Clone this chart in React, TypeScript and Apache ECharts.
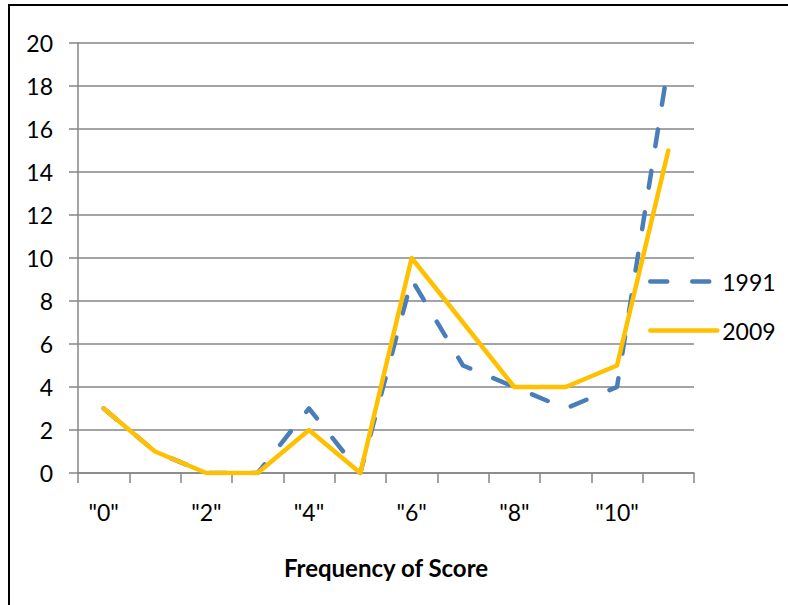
import React, { useEffect, useRef } from "react";
import * as echarts from "echarts";

const categories = ['"0"', '"1"', '"2"', '"3"', '"4"', '"5"', '"6"', '"7"', '"8"', '"9"', '"10"', '"11"'];
const series1991 = [3, 1, 0, 0, 3, 0, 9, 5, 4, 3, 4, 19];
const series2009 = [3, 1, 0, 0, 2, 0, 10, 7, 4, 4, 5, 15];
const seriesNames = ["1991", "2009"];
const xAxisTitle = "Frequency of Score";

const FONT = "Lato, 'Open Sans', sans-serif";

export default function App() {
  const ref = useRef<HTMLDivElement>(null);
  useEffect(() => {
    if (!ref.current) return;
    const chart = echarts.init(ref.current, undefined, { renderer: "svg" });
    chart.setOption({
      animation: false,
      backgroundColor: "#ffffff",
      textStyle: { fontFamily: FONT },
      grid: { left: 78, right: 94, top: 43, bottom: 132 },
      graphic: [
        {
          type: "rect",
          shape: { x: 9, y: 5, width: 820, height: 640 },
          style: { fill: "none", stroke: "#000000", lineWidth: 2 },
          silent: true,
        },
      ],
      legend: {
        orient: "vertical",
        left: 643,
        top: 265,
        itemWidth: 67,
        itemHeight: 14,
        itemGap: 26,
        itemStyle: { opacity: 0 },
        lineStyle: { width: 4.5, cap: "round" },
        textStyle: { fontFamily: FONT, fontSize: 23, color: "#000000" },
        data: seriesNames,
      },
      xAxis: {
        type: "category",
        data: categories,
        boundaryGap: true,
        name: xAxisTitle,
        nameLocation: "middle",
        nameGap: 82,
        nameTextStyle: { fontFamily: FONT, fontSize: 24, fontWeight: "bold", color: "#000000", verticalAlign: "top" },
        axisLine: { lineStyle: { color: "#868686", width: 1.5 } },
        axisTick: { show: true, length: 10, interval: 0, lineStyle: { color: "#868686", width: 1.5 } },
        axisLabel: { interval: 1, margin: 27, fontFamily: FONT, fontSize: 23, color: "#000000" },
        splitLine: { show: false },
      },
      yAxis: {
        type: "value",
        min: 0,
        max: 20,
        interval: 2,
        axisLine: { show: true, lineStyle: { color: "#868686", width: 1.5 } },
        axisTick: { show: true, length: 9, lineStyle: { color: "#868686", width: 1.5 } },
        axisLabel: { margin: 25, fontFamily: FONT, fontSize: 23, color: "#000000" },
        splitLine: { show: true, lineStyle: { color: "#868686", width: 1.5 } },
      },
      series: [
        {
          name: seriesNames[0],
          type: "line",
          data: series1991,
          symbol: "none",
          itemStyle: { color: "#4A7EBB" },
          lineStyle: { color: "#4A7EBB", width: 4.5, type: [17, 25], cap: "round", join: "round" },
        },
        {
          name: seriesNames[1],
          type: "line",
          data: series2009,
          symbol: "none",
          itemStyle: { color: "#FFC000" },
          lineStyle: { color: "#FFC000", width: 4.5, cap: "round", join: "round" },
        },
      ],
    });
    return () => chart.dispose();
  }, []);
  return (
    <div
      ref={ref}
      style={{ position: "absolute", left: 0, top: 0, width: 788, height: 605 }}
    />
  );
}
